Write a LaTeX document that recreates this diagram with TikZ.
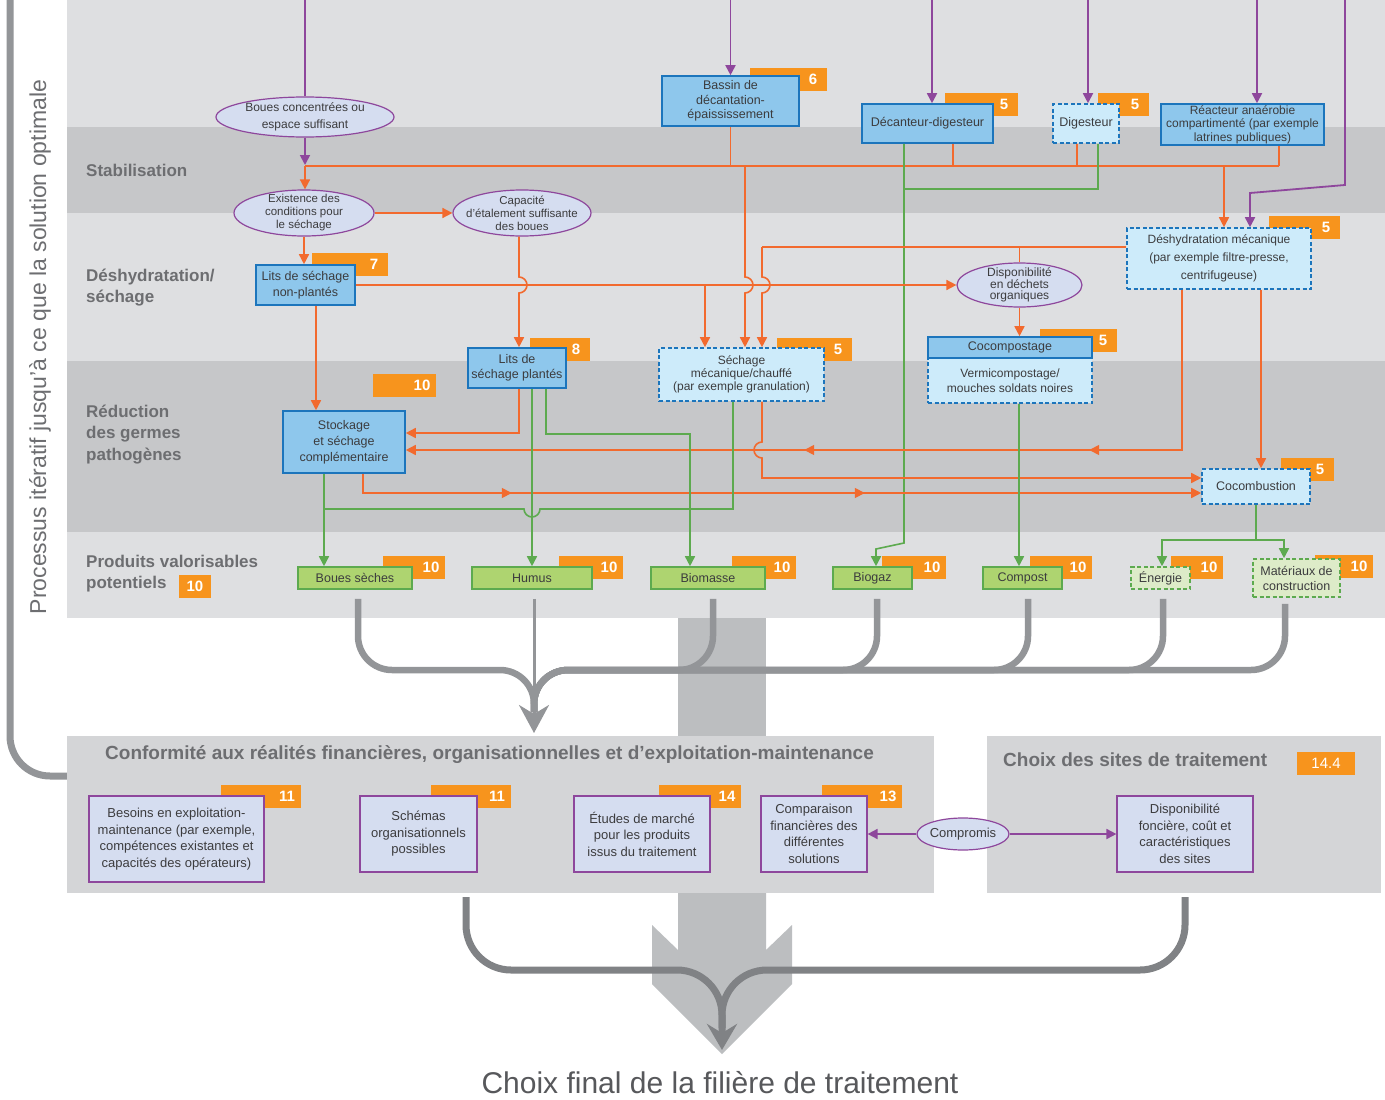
\documentclass[tikz,border=0pt]{standalone}
\usepackage{fontspec}
\setmainfont{Liberation Sans}
\usetikzlibrary{arrows.meta,shapes.geometric,decorations.markings}

\definecolor{bandL}{HTML}{DEDFE1}
\definecolor{bandD}{HTML}{C6C7C9}
\definecolor{panel}{HTML}{D4D5D7}
\definecolor{orl}{HTML}{F26A2E}
\definecolor{orb}{HTML}{F7941D}
\definecolor{pur}{HTML}{8E479C}
\definecolor{grn}{HTML}{5DAA4F}
\definecolor{bfill}{HTML}{8EC7EC}
\definecolor{bline}{HTML}{1C75BC}
\definecolor{lfill}{HTML}{CDEBFA}
\definecolor{gfill}{HTML}{AED470}
\definecolor{glfill}{HTML}{DDEBC8}
\definecolor{efill}{HTML}{D5DDF0}
\definecolor{flow}{HTML}{939598}
\definecolor{flowdk}{HTML}{808285}
\definecolor{bigarr}{HTML}{BCBEC0}
\definecolor{head}{HTML}{6D6E71}
\definecolor{txt}{HTML}{3C3C3E}

\newcommand\fz[2]{\fontsize{#1}{#2}\selectfont}
% box from its corners: style, name, x1, y1, x2, y2, text
\newcommand\mkbox[7]{%
  \pgfmathsetmacro\bxw{#5-#3}\pgfmathsetmacro\bxh{#6-#4}%
  \pgfmathsetmacro\bxcx{(#3+#5)/2}\pgfmathsetmacro\bxcy{(#4+#6)/2}%
  \node[#1, minimum width=\bxw pt, minimum height=\bxh pt] (#2) at (\bxcx,\bxcy) {#7};}
% ellipse of fixed size with its text set on top: style, name, x1, y1, x2, y2, text
\newcommand\mkcond[7]{%
  \pgfmathsetmacro\bxw{#5-#3}\pgfmathsetmacro\bxh{#6-#4}%
  \pgfmathsetmacro\bxcx{(#3+#5)/2}\pgfmathsetmacro\bxcy{(#4+#6)/2}%
  \node[cond, minimum width=\bxw pt, minimum height=\bxh pt] (#2) at (\bxcx,\bxcy) {};
  \node[condtext, #1] (#2-t) at (#2.center) {#7};}
% orange chapter tag: name, x1, y1, x2, y2, number
\newcommand\mkbadge[6]{%
  \pgfmathsetmacro\bxw{#4-#2}\pgfmathsetmacro\bxh{#5-#3}\pgfmathsetmacro\bxtw{#4-#2-2}%
  \pgfmathsetmacro\bxcx{(#2+#4)/2}\pgfmathsetmacro\bxcy{(#3+#5)/2}%
  \node[badge, minimum width=\bxw pt, minimum height=\bxh pt, text width=\bxtw pt] (#1) at (\bxcx,\bxcy) {\makebox[26pt][c]{#6}};}
\newcommand\otip{\arrow{Triangle[length=10pt,width=10pt]}}

\tikzset{
  every node/.style={text=txt},
  box/.style={inner sep=0pt, align=center, font=\fz{12}{14}, line width=1.6pt},
  bluebox/.style={box, draw=bline, fill=bfill},
  lightbox/.style={box, draw=bline, fill=lfill, dash pattern=on 4pt off 2.5pt},
  prodbox/.style={box, draw=grn, fill=gfill, font=\fz{12.5}{14}},
  prodlight/.style={box, draw=grn, fill=glfill, dash pattern=on 4pt off 2.5pt, font=\fz{12.5}{14}},
  cond/.style={ellipse, draw=pur, fill=efill, line width=1.2pt, inner sep=0pt},
  condtext/.style={inner sep=0pt, align=center, font=\fz{11.5}{13}},
  critbox/.style={box, draw=pur, fill=efill, line width=1.2pt, font=\fz{13}{16.5}},
  panelbox/.style={fill=panel, inner sep=0pt},
  badge/.style={fill=orb, text=white, inner sep=0pt, align=right, font=\fz{15}{15}\bfseries},
  stage/.style={anchor=west, align=left, inner sep=0pt, text=head, font=\fz{17}{21.5}\bfseries},
  paneltitle/.style={anchor=west, inner sep=0pt, text=head, font=\fz{19}{22}\bfseries},
  oline/.style={draw=orl, line width=1.6pt},
  oarr/.style={oline, -{Triangle[length=10pt,width=10pt]}},
  pline/.style={draw=pur, line width=1.8pt},
  parr/.style={pline, -{Triangle[length=10pt,width=10pt]}},
  gline/.style={draw=grn, line width=1.6pt},
  garr/.style={gline, -{Triangle[length=10pt,width=10pt]}},
  marks/.style={postaction={decorate, decoration={markings, #1}}},
  flowline/.style={draw=flow, line width=6.5pt},
  flowdark/.style={draw=flowdk, line width=7pt},
}

\begin{document}
\begin{tikzpicture}[x=1pt, y=-1pt]
\useasboundingbox (0,0) rectangle (1385,1100);
\fill[white] (0,0) rectangle (1385,1100);

% stage bands
\fill[bandL] (67,0) rectangle (1385,127);
\fill[bandD] (67,127) rectangle (1385,213);
\fill[bandL] (67,213) rectangle (1385,361);
\fill[bandD] (67,361) rectangle (1385,532);
\fill[bandL] (67,532) rectangle (1385,618);

% broad grey arrow running down through the page
\fill[bigarr] (678,618) rectangle (766,736);
\fill[bigarr] (678,893) -- (678,950) -- (652,925) -- (652,984) -- (722,1054)
  -- (792,984) -- (792,925) -- (766,950) -- (766,893) -- cycle;

% lower panels
\mkbox{panelbox}{conf}{67}{736}{934}{893}{}
\mkbox{panelbox}{sites}{987}{736}{1381}{893}{}
\node[paneltitle] (conft) at (105,755) {Conformité aux réalités financières, organisationnelles et d'exploitation-maintenance};
\node[paneltitle] (sitest) at (1003,760) {Choix des sites de traitement};
\node[fill=orb, text=white, inner sep=0pt, minimum width=58pt, minimum height=23pt, font=\fz{15}{15}] (b144) at (1326,763.5) {14.4};

% iteration bracket
\coordinate (itertop) at (10,-10);
\draw[flow, line width=7pt, rounded corners=40pt, line cap=butt] (itertop) -- (10,776) -- (conf.west |- 0,776);
\node[rotate=90, text=head, font=\fz{23}{23}] (iter) at (40,347) {Processus itératif jusqu'à ce que la solution optimale};

% stage labels
\node[stage] (stab) at (86,170) {Stabilisation};
\node[stage] (deshl) at (86,287.5) {Déshydratation/\\séchage};
\node[stage] (redl) at (86,434.5) {Réduction\\des germes\\pathogènes};
\node[stage] (prodl) at (86,573.5) {Produits valorisables\\potentiels};
\node[fill=orb, text=white, inner sep=0pt, minimum width=32pt, minimum height=23pt, font=\fz{15}{15}\bfseries] (b10p) at (195,586.5) {10};

% chapter tags
\mkbadge{b6}{750}{68}{827}{91}{6}
\mkbadge{b5a}{945}{93}{1018}{116}{5}
\mkbadge{b5b}{1098}{93}{1149}{116}{5}
\mkbadge{b7}{312}{253}{388}{276}{7}
\mkbadge{b5c}{1269}{216}{1340}{239}{5}
\mkbadge{b8}{530}{338}{590}{361}{8}
\mkbadge{b5d}{777}{338}{852}{361}{5}
\mkbadge{b5e}{1040}{329}{1117}{352}{5}
\mkbadge{b10s}{373}{374}{436}{397}{10}
\mkbadge{b5f}{1281}{458}{1334}{481}{5}
\mkbadge{b10a}{383}{556}{445}{579}{10}
\mkbadge{b10b}{559}{556}{623}{579}{10}
\mkbadge{b10c}{732}{556}{796}{579}{10}
\mkbadge{b10d}{882}{556}{946}{579}{10}
\mkbadge{b10e}{1030}{556}{1092}{579}{10}
\mkbadge{b10f}{1171}{556}{1223}{579}{10}
\mkbadge{b10g}{1315}{555}{1373}{578}{10}
\mkbadge{b11a}{221}{785}{301}{808}{11}
\mkbadge{b11b}{431}{785}{511}{808}{11}
\mkbadge{b14}{659}{785}{741}{808}{14}
\mkbadge{b13}{822}{785}{902}{808}{13}

% conditions and treatment units
\mkcond{font=\fz{12}{17}}{boues}{216}{97}{394}{137}{Boues concentrées ou\\espace suffisant}
\mkbox{bluebox, font=\fz{12.5}{14.5}}{bassin}{662}{76}{799}{126}{Bassin de\\décantation-\\épaississement}
\mkbox{bluebox, font=\fz{12.5}{14}}{decdig}{862}{104}{993}{143}{Décanteur-digesteur}
\mkbox{lightbox, font=\fz{12.5}{14}}{dig}{1053}{104}{1119}{143}{Digesteur}
\mkbox{bluebox, font=\fz{12}{13.5}}{rac}{1161}{104}{1324}{145}{Réacteur anaérobie\\compartimenté (par exemple\\latrines publiques)}
\mkcond{}{exist}{234}{190}{374}{236}{Existence des\\conditions pour\\le séchage}
\mkcond{}{capa}{453}{190}{591}{236}{Capacité\\d'étalement suffisante\\des boues}
\mkbox{bluebox, font=\fz{12.5}{16}}{lnp}{256}{265}{355}{305}{Lits de séchage\\non-plantés}
\mkbox{lightbox, font=\fz{12}{18}}{desh}{1127}{228}{1311}{289}{Déshydratation mécanique\\(par exemple filtre-presse,\\centrifugeuse)}
\mkcond{font=\fz{12}{11}}{dispo}{957}{263}{1082}{307}{Disponibilité\\en déchets\\organiques}
\mkbox{bluebox, font=\fz{12.5}{15}}{lp}{468}{348}{566}{388}{Lits de\\séchage plantés}
\mkbox{lightbox, font=\fz{12}{13}}{sech}{659}{348}{824}{401}{Séchage\\mécanique/chauffé\\(par exemple granulation)}
\mkbox{lightbox, font=\fz{12}{15}}{vermi}{928}{358}{1092}{403}{Vermicompostage/\\mouches soldats noires}
\mkbox{bluebox, font=\fz{12.5}{14}}{cocomp}{928}{337}{1092}{358}{Cocompostage}
\mkbox{bluebox, font=\fz{12.5}{16}}{stock}{283}{411}{405}{473}{Stockage\\et séchage\\complémentaire}
\mkbox{lightbox, font=\fz{12.5}{14}}{cocomb}{1202}{469}{1310}{504}{Cocombustion}

% products
\mkbox{prodbox}{bsech}{298}{567}{412}{589}{Boues sèches}
\mkbox{prodbox}{humus}{472}{567}{592}{589}{Humus}
\mkbox{prodbox}{biomasse}{651}{567}{765}{589}{Biomasse}
\mkbox{prodbox}{biogaz}{833}{567}{912}{589}{Biogaz}
\mkbox{prodbox}{compost}{983}{567}{1062}{589}{Compost}
\mkbox{prodlight}{energie}{1131}{567}{1190}{589}{Énergie}
\mkbox{prodlight, font=\fz{12.5}{15}}{mat}{1253}{559}{1340}{597}{Matériaux de\\construction}

% criteria
\mkbox{critbox}{besoins}{89}{796}{264}{882}{Besoins en exploitation-\\maintenance (par exemple,\\compétences existantes et\\capacités des opérateurs)}
\mkbox{critbox}{schemas}{360}{796}{477}{872}{Schémas\\organisationnels\\possibles}
\mkbox{critbox}{etudes}{574}{796}{710}{872}{Études de marché\\pour les produits\\issus du traitement}
\mkbox{critbox}{compar}{761}{796}{867}{872}{Comparaison\\financières des\\différentes\\solutions}
\mkbox{critbox}{foncier}{1117}{796}{1253}{872}{Disponibilité\\foncière, coût et\\caractéristiques\\des sites}
\mkcond{font=\fz{13}{14}}{compromis}{917}{818}{1009}{850}{Compromis}

% incoming sludge streams
\coordinate (in1) at (305,0);
\coordinate (in2) at (730.5,0);
\coordinate (in3) at (932,0);
\coordinate (in4) at (1088,0);
\coordinate (in5) at (1257,0);
\coordinate (in6) at (1345,0);
\draw[pline] (in1) -- (boues.north);
\draw[parr] (in2) -- (bassin.north);
\draw[parr] (in3) -- (decdig.north -| in3);
\draw[parr] (in4) -- (dig.north -| in4);
\draw[parr] (in5) -- (rac.north -| in5);
\draw[parr] (in6) -- (1345,185) -- (1250,193) -- (desh.north -| 1250,0);

% stabilisation collector
\coordinate (busL) at (305,166);
\coordinate (busR) at (1279,166);
\draw[parr, shorten >=1pt] (boues.south) -- (boues.south |- busL);
\draw[oline] (busL) -- (busR);
\draw[oline] (bassin.south) -- (bassin.south |- busL);
\draw[oline] (decdig.south -| 953,0) -- (953,166);
\draw[oline] (dig.south -| 1077,0) -- (1077,166);
\draw[oline] (rac.south -| busR) -- (busR);
\draw[oarr] (busL) -- (exist.north -| busL);
\draw[oarr] (1224,166) -- (desh.north -| 1224,0);
\draw[oarr] (745,166) -- (745,277) arc[start angle=-90, end angle=90, radius=8] -- (sech.north -| 745,0);

% biogas lines
\draw[gline] (dig.south -| 1098,0) -- (1098,189) -- (904,189);
\draw[garr] (decdig.south -| 904,0) -- (904,543) -- (876,549) -- (biogaz.north -| 876,0);

% dewatering
\draw[oarr] (exist) -- (capa);
\draw[oarr] (exist.south) -- (exist.south |- lnp.north);
\draw[oarr] (lnp.east) -- (dispo.west);
\draw[oarr] (705,285) -- (sech.north -| 705,0);
\draw[oarr] (capa.south -| 519,0) -- (519,277) arc[start angle=-90, end angle=90, radius=8] -- (lp.north -| 519,0);
\draw[oline] (desh.west |- 0,247) -- (762,247);
\draw[oarr] (762,247) -- (762,277) arc[start angle=-90, end angle=90, radius=8] -- (sech.north -| 762,0);
\draw[oline] (1019.5,247) -- (dispo.north);
\draw[oarr] (dispo.south) -- (cocomp.north -| dispo.south);

% pathogen reduction
\draw[oarr] (lnp.south -| 316,0) -- (stock.north -| 316,0);
\draw[oarr] (lp.south -| 519,0) -- (519,433) -- (stock.east |- 0,433);
\draw[oarr, marks={mark=at position 253pt with {\otip}, mark=at position 538pt with {\otip}}]
  (desh.south -| 1182,0) -- (1182,450) -- (stock.east |- 0,450);
\draw[oarr] (sech.south -| 762,0) -- (762,442) arc[start angle=-90, end angle=-270, radius=8] -- (762,478) -- (cocomb.west |- 0,478);
\draw[oarr] (desh.south -| 1261,0) -- (cocomb.north -| 1261,0);
\draw[oarr, marks={mark=at position 168pt with {\otip}, mark=at position 521pt with {\otip}}]
  (stock.south -| 363,0) -- (363,493) -- (cocomb.west |- 0,493);

% products
\draw[garr] (stock.south -| 324,0) -- (bsech.north -| 324,0);
\draw[gline] (sech.south -| 733,0) -- (733,509) -- (540,509) arc[start angle=0, end angle=180, radius=8] -- (324,509);
\draw[garr] (lp.south -| 532,0) -- (humus.north -| 532,0);
\draw[garr] (lp.south -| 546,0) -- (546,434) -- (690,434) -- (biomasse.north -| 690,0);
\draw[garr] (vermi.south -| 1019,0) -- (compost.north -| 1019,0);
\draw[gline] (cocomb.south) -- (cocomb.south |- 0,540);
\draw[garr] (cocomb.south |- 0,540) -| (energie.north -| 1162,0);
\draw[garr] (cocomb.south |- 0,540) -| (mat.north -| 1284,0);

% criteria links
\draw[parr] (compromis) -- (compar);
\draw[parr] (compromis) -- (foncier);

% products gathered into the feasibility check
\coordinate (m1) at (534,733);
\coordinate (m1b) at (534,712);
\draw[flowline, rounded corners=34pt] ([shift={(3pt,-9pt)}]bsech.south) -- (358,670) -- (534,670) -- (m1b);
\draw[flowline, rounded corners=34pt] ([shift={(5pt,-9pt)}]biomasse.south) -- (713,670) -- (534,670) -- (m1b);
\draw[flowline, rounded corners=34pt] ([shift={(4.5pt,-9pt)}]biogaz.south) -- (877,670) -- (534,670) -- (m1b);
\draw[flowline, rounded corners=34pt] ([shift={(5.5pt,-9pt)}]compost.south) -- (1028,670) -- (534,670) -- (m1b);
\draw[flowline, rounded corners=34pt] ([shift={(2.5pt,-9pt)}]energie.south) -- (1163,670) -- (534,670) -- (m1b);
\draw[flowline, rounded corners=34pt] ([shift={(-11.5pt,-6pt)}]mat.south) -- (1285,670) -- (534,670) -- (m1b);
\draw[flowline, line width=3pt, -{Stealth[length=28pt,width=30pt,inset=9pt]}] ([shift={(2pt,-9pt)}]humus.south) -- (m1);

% final decision
\coordinate (m2) at (722,1050);
\coordinate (m2b) at (722,1028);
\draw[flowdark, rounded corners=45pt] ([shift={(1pt,-4pt)}]sites.south) -- (1185,970) -- (722,970) -- (m2b);
\draw[flowdark, rounded corners=45pt, -{Stealth[length=26pt,width=30pt,inset=9pt]}] ([shift={(-34.5pt,-4pt)}]conf.south) -- (466,970) -- (722,970) -- (m2);
\node[text=head!80!black, font=\fz{30}{30}] (final) at (720,1083) {Choix final de la filière de traitement};
\end{tikzpicture}
\end{document}
